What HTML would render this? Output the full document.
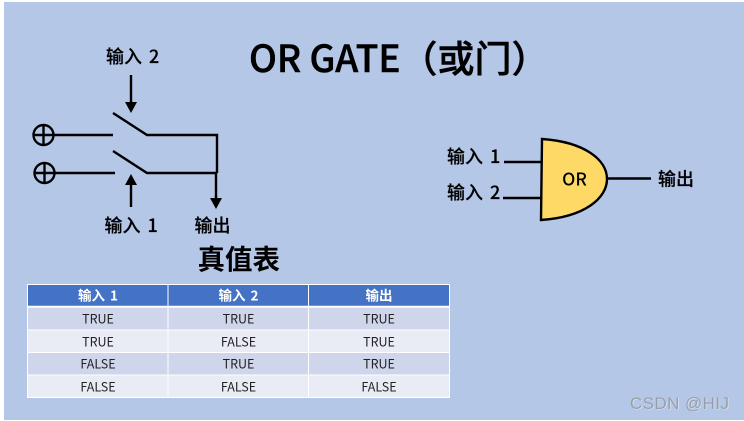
<!DOCTYPE html>
<html><head><meta charset="utf-8"><style>
html,body{margin:0;padding:0;background:#fff;width:744px;height:421px;overflow:hidden}
svg{display:block}
text{font-family:"Liberation Sans","Noto Sans CJK SC",sans-serif}
.c{font-family:"Noto Sans CJK SC","Liberation Sans",sans-serif}
</style></head><body>
<svg width="744" height="421" viewBox="0 0 744 421" xmlns="http://www.w3.org/2000/svg">
<rect x="4" y="2" width="740" height="418" fill="#b4c7e7"/>
<g stroke="#000" stroke-width="2.4" fill="none">
<circle cx="43.500" cy="135" r="10"/><path d="M34 135H53M43.500 125.500V144.500"/>
<circle cx="44.500" cy="173" r="10"/><path d="M35 173H54M44.500 163.500V182.500"/>
<path d="M54 135H113M113 113L147 135H217V173M54 173H115M113 151L147 173H217"/>
<path d="M131 75V104M131 207V184M216 173V200"/>
</g>
<path d="M125 102H137L131 113ZM125 185H137L131 174ZM210 198H222L216 209Z" fill="#000"/>
<g font-size="18" font-weight="500" fill="#000" stroke="#000" stroke-width=".2" word-spacing="3">
<text class="c" x="106" y="63">输入 2</text>
<text class="c" x="104.500" y="232">输入 1</text>
<text class="c" x="194.500" y="232">输出</text>
<text class="c" x="447" y="163">输入 1</text>
<text class="c" x="447" y="199">输入 2</text>
<text class="c" x="658" y="185.500">输出</text>
</g>
<text class="c" x="249" y="72" font-size="37" font-weight="500" fill="#000" stroke="#000" stroke-width=".5">OR GATE（或门）</text>
<text class="c" x="197.500" y="269" font-size="27.500" font-weight="700" fill="#000">真值表</text>
<g stroke="#000" stroke-width="2.400" fill="none">
<path d="M504 162H541M503 198H541M607 178.500H651"/>
</g>
<path d="M542 139C585 142 607 160 607 179C607 198 585 217 541 220Z" fill="#ffd966" stroke="#000" stroke-width="2.400"/>
<text class="c" x="574.500" y="185.500" font-size="17.500" font-weight="500" fill="#000" text-anchor="middle">OR</text>
<rect x="27.500" y="284.500" width="422" height="113" fill="#e9ebf5"/>
<rect x="27.500" y="284.500" width="422" height="21.500" fill="#4472c4"/>
<rect x="27.500" y="307.500" width="422" height="22.500" fill="#cfd5ea"/>
<rect x="27.500" y="352.500" width="422" height="22.500" fill="#cfd5ea"/>
<g stroke="#fff" fill="none">
<rect x="27.500" y="284.500" width="422" height="113"/>
<path d="M168 285V398M308.500 285V398"/>
<path d="M27.500 306.800H449.500" stroke-width="2"/>
<path d="M27.500 330H449.500M27.500 352.500H449.500M27.500 375H449.500"/>
</g>
<g font-size="13.500" fill="#fff" text-anchor="middle" font-weight="700" word-spacing="2">
<text class="c" x="98" y="300.500">输入 1</text>
<text class="c" x="238.500" y="300.500">输入 2</text>
<text class="c" x="379" y="300.500">输出</text>
</g>
<g font-size="12.500" fill="#222" text-anchor="middle">
<text class="c" x="98" y="323.500">TRUE</text><text class="c" x="238.500" y="323.500">TRUE</text><text class="c" x="379" y="323.500">TRUE</text>
<text class="c" x="98" y="346.300">TRUE</text><text class="c" x="238.500" y="346.300">FALSE</text><text class="c" x="379" y="346.300">TRUE</text>
<text class="c" x="98" y="368.500">FALSE</text><text class="c" x="238.500" y="368.500">TRUE</text><text class="c" x="379" y="368.500">TRUE</text>
<text class="c" x="98" y="391.300">FALSE</text><text class="c" x="238.500" y="391.300">FALSE</text><text class="c" x="379" y="391.300">FALSE</text>
</g>
<text x="630" y="409" font-size="17" textLength="99" fill="#fff" opacity=".55" transform="translate(.7 .7)">CSDN @HIJ</text>
<text x="630" y="409" font-size="17" textLength="99" fill="#8f949c" opacity=".85">CSDN @HIJ</text>
</svg>
</body></html>
